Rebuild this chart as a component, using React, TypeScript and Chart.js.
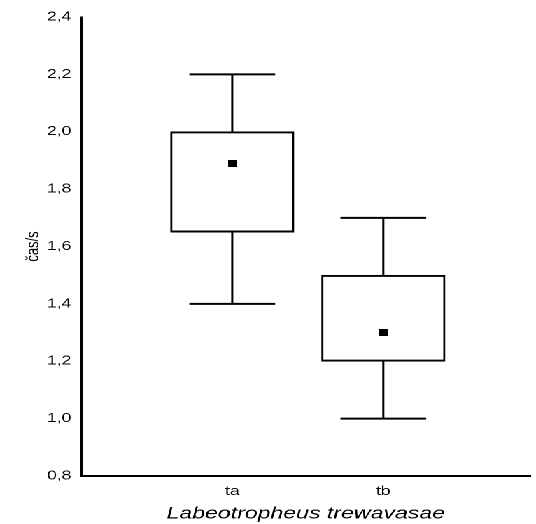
import React, { useEffect, useRef } from "react";
import { Chart, registerables } from "chart.js";

Chart.register(...registerables);

// ---- data ----
const categories = ["ta", "tb"];
const means = [1.89, 1.3];
const boxLow = [1.65, 1.2];
const boxHigh = [2.0, 1.5];
const whiskerLow = [1.4, 1.0];
const whiskerHigh = [2.2, 1.7];
const yTicks = [0.8, 1.0, 1.2, 1.4, 1.6, 1.8, 2.0, 2.2, 2.4];
const xTitle = "Labeotropheus trewavasae";
const yTitle = "čas/s";

// ---- layout (source picture is horizontally stretched) ----
const STRETCH = 1.4;
const W = 536;
const H = 524;
const INNER_W = Math.round(W / STRETCH);
const CAP_HALF = 0.284;
const FONT = "'Liberation Sans', Arial, Helvetica, sans-serif";

function makeMarker(): HTMLCanvasElement {
  const c = document.createElement("canvas");
  c.width = 6;
  c.height = 7;
  const g = c.getContext("2d");
  if (g) {
    g.fillStyle = "#000";
    g.fillRect(0, 0, 6, 7);
  }
  return c;
}

export default function App() {
  const ref = useRef<HTMLCanvasElement | null>(null);

  useEffect(() => {
    if (!ref.current) return;
    const stems: any[] = [];
    const caps: any[] = [];
    categories.forEach((_, i) => {
      const x = i + 1;
      stems.push({ x, y: boxHigh[i] }, { x, y: whiskerHigh[i] }, { x, y: null });
      stems.push({ x, y: boxLow[i] }, { x, y: whiskerLow[i] }, { x, y: null });
      caps.push({ x: x - CAP_HALF, y: whiskerHigh[i] }, { x: x + CAP_HALF, y: whiskerHigh[i] }, { x, y: null });
      caps.push({ x: x - CAP_HALF, y: whiskerLow[i] }, { x: x + CAP_HALF, y: whiskerLow[i] }, { x, y: null });
    });
    const marker = makeMarker();

    const chart = new Chart(ref.current, {
      type: "bar",
      data: {
        datasets: [
          {
            type: "scatter",
            label: "mean",
            data: categories.map((_, i) => ({ x: i + 1, y: means[i] })),
            pointStyle: marker,
            pointRadius: 4,
            pointBackgroundColor: "#000",
            pointBorderWidth: 0,
            order: 0,
          } as any,
          {
            type: "bar",
            label: "box",
            data: categories.map((_, i) => ({ x: i + 1, y: [boxLow[i], boxHigh[i]] })),
            backgroundColor: "#fff",
            borderColor: "#000",
            borderWidth: { top: 2, bottom: 2, left: 1.5, right: 1.5 },
            borderSkipped: false,
            barThickness: 88,
            order: 1,
          } as any,
          {
            type: "line",
            label: "stems",
            data: stems,
            borderColor: "#000",
            borderWidth: 1.5,
            pointRadius: 0,
            fill: false,
            spanGaps: false,
            order: 2,
          } as any,
          {
            type: "line",
            label: "caps",
            data: caps,
            borderColor: "#000",
            borderWidth: 2,
            pointRadius: 0,
            fill: false,
            spanGaps: false,
            order: 2,
          } as any,
        ],
      },
      options: {
        responsive: false,
        animation: false,
        devicePixelRatio: 2,
        events: [],
        layout: { padding: { top: 17, right: 0, bottom: 0, left: 0 } },
        plugins: { legend: { display: false }, tooltip: { enabled: false } },
        scales: {
          x: {
            type: "linear",
            min: 0,
            max: (INNER_W - 58) / 109.3,
            offset: false,
            grid: { display: true, drawOnChartArea: false, drawTicks: false, offset: false },
            border: { display: true, color: "#000", width: 2 },
            afterBuildTicks: (axis: any) => {
              axis.ticks = categories.map((_, i) => ({ value: i + 1 }));
            },
            afterFit: (axis: any) => {
              axis.height = 48;
            },
            ticks: {
              color: "#000",
              padding: 8,
              autoSkip: false,
              maxRotation: 0,
              font: { family: FONT, size: 12.5 },
              callback: (v: any) => categories[Math.round(v) - 1] ?? "",
            },
            title: {
              display: true,
              text: xTitle,
              color: "#000",
              padding: { top: 0, bottom: 0 },
              font: { family: FONT, size: 16.5, style: "italic" },
            },
          },
          y: {
            type: "linear",
            min: yTicks[0],
            max: yTicks[yTicks.length - 1],
            grid: { display: true, drawOnChartArea: false, drawTicks: false },
            border: { display: true, color: "#000", width: 1.5 },
            afterBuildTicks: (axis: any) => {
              axis.ticks = yTicks.map((v) => ({ value: v }));
            },
            afterFit: (axis: any) => {
              axis.width = 58;
            },
            ticks: {
              color: "#000",
              padding: 7,
              autoSkip: false,
              font: { family: FONT, size: 12.5 },
              callback: (v: any) => Number(v).toFixed(1).replace(".", ","),
            },
            title: {
              display: true,
              text: yTitle,
              color: "#000",
              padding: { top: 16, bottom: 0 },
              font: { family: FONT, size: 13 },
            },
          },
        },
      },
    });
    return () => chart.destroy();
  }, []);

  return (
    <div
      style={{
        position: "absolute",
        left: 0,
        top: 0,
        width: INNER_W,
        height: H,
        transform: `scaleX(${W / INNER_W})`,
        transformOrigin: "0 0",
        background: "#fff",
      }}
    >
      <canvas ref={ref} width={INNER_W} height={H} />
    </div>
  );
}
